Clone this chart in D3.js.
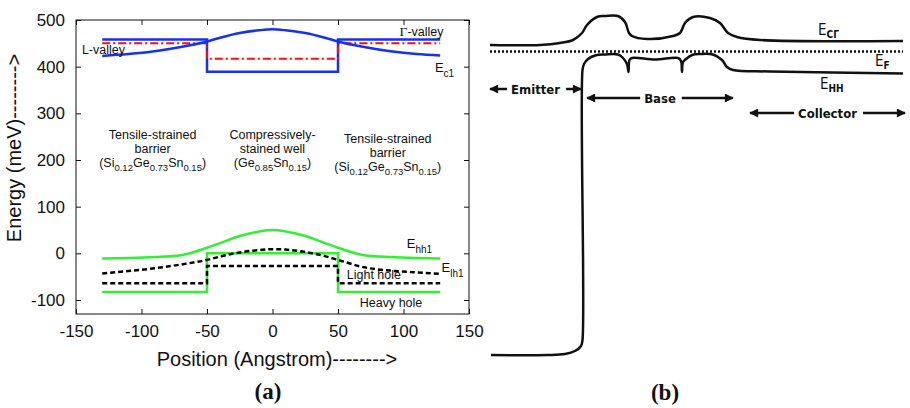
<!DOCTYPE html>
<html>
<head>
<meta charset="utf-8">
<script src="https://cdn.jsdelivr.net/npm/d3@7"></script>
<style>
  html, body { margin: 0; padding: 0; background: #fff; }
  svg { display: block; }
  text { fill: #111; }
</style>
</head>
<body>
<svg id="chart" width="910" height="408"></svg>
<script>
// ---- panel (a): band edges of the SiGeSn well ----
var positions = [-130, -110, -90, -70, -50, -40, -25, -10, 0, 10, 25, 40, 50, 70, 90, 110, 128];
var ec1 = [423, 427, 433, 442, 454, 462, 472, 478, 480, 478, 472, 462, 454, 442, 433, 427, 424];
var ehh1 = [-11, -10, -8, -4, 12, 22, 37, 47, 50, 47, 37, 22, 12, -4, -8, -10, -11];
var elh1 = [-43, -38, -32, -24, -14, -7, 2, 7, 9, 8, 3, -6, -14, -30, -37, -41, -44];

var stepPos = [-130, -50, -50, 50, 50, 128];
var gammaValley = [458, 458, 389, 389, 458, 458];
var lValley = [450, 450, 417, 417, 450, 450];
var heavyHole = [-83, -83, 0, 0, -83, -83];
var lightHole = [-64, -64, -27, -27, -64, -64];

var xTicks = [-150, -100, -50, 0, 50, 100, 150];
var yTicks = [-100, 0, 100, 200, 300, 400, 500];

// ---- panel (b): HBT band diagram (position nm, energy meV, arbitrary origin) ----
var ecgPos = [0, 10, 14, 16.6, 18.4, 19.4, 21.4, 23, 25.6, 27, 27.8, 28.4, 31.4, 36.6, 38, 39, 40.6, 44, 46, 47.6, 49.4, 54, 82.6];
var ecgE = [620, 620, 624, 630, 644, 660, 676, 678, 678, 666, 644, 638, 632, 638, 644, 664, 676, 674, 664, 644, 636, 630, 628];
var ehhPos = [0.2, 11.4, 15, 17, 18.2, 18.5, 18.5, 18.8, 19.6, 21, 23, 25.6, 26.6, 27.4, 27.7, 27.9, 28.4, 33, 37.6, 38.2, 38.4, 38.6, 39.2, 40.4, 42, 44.6, 46.4, 47.4, 48.6, 56, 82.6];
var ehhE = [0, 0, 2, 8, 18, 30, 570, 582, 592, 599, 601, 601, 594, 582, 566, 590, 594, 591, 594, 588, 566, 586, 592, 600, 602, 601, 590, 576, 570, 567, 563];
var fermiPos = [0, 82.6];
var fermiE = [607, 607];

var regions = ['Emitter', 'Base', 'Collector'];
var regionStart = [0, 19.4, 52];
var regionEnd = [18.2, 48.6, 83];

var svg = d3.select('#chart');

function zip(xs, ys) {
	return xs.map(function (d, i) { return [d, ys[i]]; });
}

// text with subscripts: parts = [[string, isSub], ...]
function richText(g, x, y, parts, size, subSize, shift) {
	var t = g.append('text').attr('x', x).attr('y', y)
		.attr('font-size', size).attr('text-anchor', 'middle');
	var cur = 0;
	parts.forEach(function (p) {
		var target = p[1] ? shift : 0;
		t.append('tspan')
			.attr('dy', target - cur)
			.attr('font-size', p[1] ? subSize : null)
			.text(p[0]);
		cur = target;
	});
	return t;
}

// ================= panel (a) =================
var x = d3.scaleLinear().domain([-150, 150]).range([76, 469]);
var y = d3.scaleLinear().domain([-130, 500]).range([314, 20]);

var ga = svg.append('g').attr('font-family', 'Liberation Sans, Arial, sans-serif');

var line = d3.line()
	.x(function (d) { return x(d[0]); })
	.y(function (d) { return y(d[1]); });
var smooth = d3.line()
	.x(function (d) { return x(d[0]); })
	.y(function (d) { return y(d[1]); })
	.curve(d3.curveMonotoneX);

var noLabel = function () { return ''; };
var fmt = function (d) { return String(d); };

ga.append('g').attr('transform', 'translate(0,314)')
	.call(d3.axisBottom(x).tickValues(xTicks).tickSizeInner(-5).tickSizeOuter(0).tickPadding(11).tickFormat(fmt));
ga.append('g').attr('transform', 'translate(0,20)')
	.call(d3.axisTop(x).tickValues(xTicks).tickSizeInner(-5).tickSizeOuter(0).tickFormat(noLabel));
ga.append('g').attr('transform', 'translate(76,0)')
	.call(d3.axisLeft(y).tickValues(yTicks).tickSizeInner(-5).tickSizeOuter(0).tickPadding(11).tickFormat(fmt));
ga.append('g').attr('transform', 'translate(469,0)')
	.call(d3.axisRight(y).tickValues(yTicks).tickSizeInner(-5).tickSizeOuter(0).tickFormat(noLabel));

ga.selectAll('.domain').remove();
ga.selectAll('.tick line').attr('stroke', '#111');
ga.selectAll('.tick text').attr('font-size', 17).attr('font-family', 'Liberation Sans, Arial, sans-serif').attr('fill', '#111');

ga.append('rect')
	.attr('x', x(-150)).attr('y', y(500))
	.attr('width', x(150) - x(-150)).attr('height', y(-130) - y(500))
	.attr('fill', 'none').attr('stroke', '#111').attr('stroke-width', 1);

var blue = '#1432f0', red = '#ee1010', green = '#33ee33';

ga.append('path').datum(zip(stepPos, gammaValley)).attr('d', line)
	.attr('fill', 'none').attr('stroke', blue).attr('stroke-width', 2.5);
ga.append('path').datum(zip(stepPos, lValley)).attr('d', line)
	.attr('fill', 'none').attr('stroke', red).attr('stroke-width', 2)
	.attr('stroke-dasharray', '8,3,2,3');
ga.append('path').datum(zip(positions, ec1)).attr('d', smooth)
	.attr('fill', 'none').attr('stroke', blue).attr('stroke-width', 2.5);

ga.append('path').datum(zip(stepPos, heavyHole)).attr('d', line)
	.attr('fill', 'none').attr('stroke', green).attr('stroke-width', 2.5);
ga.append('path').datum(zip(positions, ehh1)).attr('d', smooth)
	.attr('fill', 'none').attr('stroke', green).attr('stroke-width', 2.5);
ga.append('path').datum(zip(stepPos, lightHole)).attr('d', line)
	.attr('fill', 'none').attr('stroke', '#000').attr('stroke-width', 2.5)
	.attr('stroke-dasharray', '5,3');
ga.append('path').datum(zip(positions, elh1)).attr('d', smooth)
	.attr('fill', 'none').attr('stroke', '#000').attr('stroke-width', 2.5)
	.attr('stroke-dasharray', '5,3');

// curve labels
var gv = ga.append('text').attr('x', x(97)).attr('y', y(466)).attr('font-size', 12.5);
gv.append('tspan').attr('font-family', 'Liberation Serif, serif').attr('font-size', 13.5).text('\u0393');
gv.append('tspan').text('-valley');
ga.append('text').attr('x', x(-145.5)).attr('y', y(427)).attr('font-size', 12.5).text('L-valley');

function eLabel(px, py, sub) {
	var t = ga.append('text').attr('x', px).attr('y', py).attr('font-size', 13);
	t.append('tspan').text('E');
	t.append('tspan').attr('dy', 5).attr('font-size', 10).text(sub);
}
eLabel(x(124), y(389), 'c1');
eLabel(x(102.5), y(11), 'hh1');
eLabel(x(129), y(-40), 'lh1');

ga.append('text').attr('x', x(56.7)).attr('y', y(-55)).attr('font-size', 12.5).text('Light hole');
ga.append('text').attr('x', x(66.6)).attr('y', y(-115)).attr('font-size', 12.5).text('Heavy hole');

// region annotations
var sigesn = [['(Si', 0], ['0.12', 1], ['Ge', 0], ['0.73', 1], ['Sn', 0], ['0.15', 1], [')', 0]];
var gesn = [['(Ge', 0], ['0.85', 1], ['Sn', 0], ['0.15', 1], [')', 0]];
var blocks = [
	{ pos: -91.5, top: 245, lines: [[['Tensile-strained', 0]], [['barrier', 0]], sigesn] },
	{ pos: 0, top: 245, lines: [[['Compressively-', 0]], [['stained well', 0]], gesn] },
	{ pos: 88, top: 236, lines: [[['Tensile-strained', 0]], [['barrier', 0]], sigesn] }
];
blocks.forEach(function (b) {
	b.lines.forEach(function (parts, i) {
		richText(ga, x(b.pos), y(b.top) + i * 14, parts, 12.5, 9.5, 4);
	});
});

// axis titles
ga.append('text')
	.attr('transform', 'translate(21,' + 148 + ') rotate(-90)')
	.attr('text-anchor', 'middle').attr('font-size', 20)
	.text('Energy (meV)-------->');
ga.append('text')
	.attr('x', 277).attr('y', 366)
	.attr('text-anchor', 'middle').attr('font-size', 20)
	.text('Position (Angstrom)-------->');

svg.append('text').attr('x', 268).attr('y', 399)
	.attr('text-anchor', 'middle').attr('font-size', 23).attr('font-weight', 'bold')
	.attr('font-family', 'Liberation Serif, Times New Roman, serif').text('(a)');

// ================= panel (b) =================
var xb = d3.scaleLinear().domain([0, 83]).range([490, 905]);
var yb = d3.scaleLinear().domain([0, 680]).range([355, 15]);

var gb = svg.append('g').attr('font-family', 'DejaVu Sans Condensed, Liberation Sans Narrow, sans-serif')
	.attr('font-weight', 'bold');

var bandLine = d3.line()
	.x(function (d) { return xb(d[0]); })
	.y(function (d) { return yb(d[1]); })
	.curve(d3.curveCatmullRom.alpha(0.5));

gb.append('path').datum(zip(ecgPos, ecgE)).attr('d', bandLine)
	.attr('fill', 'none').attr('stroke', '#111').attr('stroke-width', 2.5).attr('stroke-linejoin', 'round');
gb.append('path').datum(zip(ehhPos, ehhE)).attr('d', bandLine)
	.attr('fill', 'none').attr('stroke', '#111').attr('stroke-width', 2.5).attr('stroke-linejoin', 'round');
gb.append('path').datum(zip(fermiPos, fermiE)).attr('d', d3.line().x(function (d) { return xb(d[0]); }).y(function (d) { return yb(d[1]); }))
	.attr('fill', 'none').attr('stroke', '#111').attr('stroke-width', 2.5).attr('stroke-dasharray', '2,2');

function bLabel(pos, e, main, sub) {
	var t = gb.append('text').attr('x', xb(pos)).attr('y', yb(e)).attr('font-size', 15).attr('font-weight', 'normal');
	t.append('tspan').text(main);
	t.append('tspan').attr('dy', 3).attr('font-size', 10).attr('font-weight', 'bold').text(sub);
}
bLabel(65.6, 640, 'E', 'C\u0393');
bLabel(77, 578, 'E', 'F');
bLabel(66, 532, 'E', 'HH');

// arrow heads
var defs = svg.append('defs');
defs.append('marker').attr('id', 'head')
	.attr('viewBox', '0 0 10 10').attr('refX', 9).attr('refY', 5)
	.attr('markerWidth', 4.4).attr('markerHeight', 3.6).attr('markerUnits', 'strokeWidth')
	.attr('orient', 'auto-start-reverse')
	.append('path').attr('d', 'M0,0L10,5L0,10Z').attr('fill', '#111');

var rowE = [532, 514, 484];
regions.forEach(function (name, i) {
	var yy = yb(rowE[i]);
	var cx = xb((regionStart[i] + regionEnd[i]) / 2);
	var t = gb.append('text').attr('x', cx).attr('y', yy + 5)
		.attr('text-anchor', 'middle').attr('font-size', 13).text(name);
	var w = t.node().getComputedTextLength();
	gb.append('line')
		.attr('x1', cx - w / 2 - 4).attr('x2', xb(regionStart[i]))
		.attr('y1', yy).attr('y2', yy)
		.attr('stroke', '#111').attr('stroke-width', 2.5).attr('marker-end', 'url(#head)');
	gb.append('line')
		.attr('x1', cx + w / 2 + 6).attr('x2', xb(regionEnd[i]))
		.attr('y1', yy).attr('y2', yy)
		.attr('stroke', '#111').attr('stroke-width', 2.5).attr('marker-end', 'url(#head)');
});

svg.append('text').attr('x', 665).attr('y', 400)
	.attr('text-anchor', 'middle').attr('font-size', 23).attr('font-weight', 'bold')
	.attr('font-family', 'Liberation Serif, Times New Roman, serif').text('(b)');
</script>
</body>
</html>
